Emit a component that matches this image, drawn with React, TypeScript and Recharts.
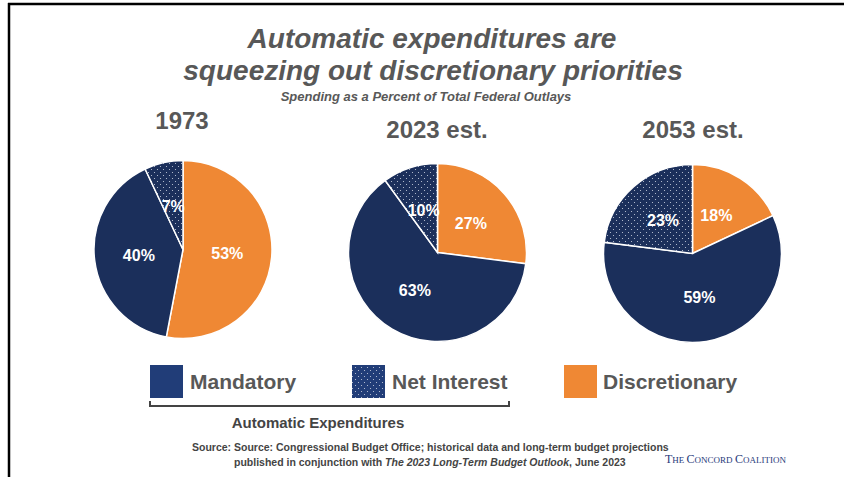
import React from 'react';
import { PieChart, Pie, Cell } from 'recharts';

// ---- Data ----
const years = ['1973', '2023 est.', '2053 est.'];
const categories = ['Mandatory', 'Net Interest', 'Discretionary'];
const mandatory = [40, 63, 59];
const netInterest = [7, 10, 23];
const discretionary = [53, 27, 18];

const title1 = 'Automatic expenditures are';
const title2 = 'squeezing out discretionary priorities';
const subtitle = 'Spending as a Percent of Total Federal Outlays';
const bracketLabel = 'Automatic Expenditures';

// ---- Styles ----
const W = 844;
const H = 477;
const FONT = '"Liberation Sans", Arial, Helvetica, sans-serif';
const GRAY = '#585858';
const NAVY = '#1b2f5b';
const NAVY_LEGEND = '#213d78';
const ORANGE = '#ef8834';

const pieFill: Record<string, string> = {
  Mandatory: NAVY,
  'Net Interest': 'url(#dotsPie)',
  Discretionary: ORANGE,
};
const legendFill: Record<string, string> = {
  Mandatory: NAVY_LEGEND,
  'Net Interest': 'url(#dotsLegend)',
  Discretionary: ORANGE,
};

const pieCenters = [
  { cx: 183, cy: 249.5 },
  { cx: 437.5, cy: 252.5 },
  { cx: 692.5, cy: 253.5 },
];
const yearLabelPos = [
  { x: 182, y: 129 },
  { x: 437, y: 138 },
  { x: 693, y: 138 },
];
const legendPos = [
  { sx: 150, tx: 190 },
  { sx: 352, tx: 392 },
  { sx: 564, tx: 603 },
];

const pieData = years.map((_, i) => [
  { name: 'Discretionary', value: discretionary[i] },
  { name: 'Mandatory', value: mandatory[i] },
  { name: 'Net Interest', value: netInterest[i] },
]);

const RAD = Math.PI / 180;
const renderLabel = (p: any) => {
  const r = p.outerRadius * 0.5;
  const x = p.cx + r * Math.cos(-p.midAngle * RAD);
  const y = p.cy + r * Math.sin(-p.midAngle * RAD);
  return (
    <text
      x={x}
      y={y}
      fill="#ffffff"
      textAnchor="middle"
      dominantBaseline="central"
      fontSize={16}
      fontWeight="bold"
      fontFamily={FONT}
    >
      {`${p.value}%`}
    </text>
  );
};

const Patterns = () => (
  <svg width={0} height={0} style={{ position: 'absolute' }}>
    <defs>
      <pattern id="dotsPie" width="6" height="6" patternUnits="userSpaceOnUse">
        <rect width="6" height="6" fill={NAVY} />
        <circle cx="1.5" cy="1.5" r="0.55" fill="#c9d0de" />
        <circle cx="4.5" cy="4.5" r="0.55" fill="#c9d0de" />
      </pattern>
      <pattern id="dotsLegend" width="6" height="6" patternUnits="userSpaceOnUse">
        <rect width="6" height="6" fill={NAVY_LEGEND} />
        <circle cx="1.5" cy="1.5" r="0.55" fill="#c9d0de" />
        <circle cx="4.5" cy="4.5" r="0.55" fill="#c9d0de" />
      </pattern>
    </defs>
  </svg>
);

export default function App() {
  return (
    <div style={{ position: 'relative', width: W, height: H, background: '#fff' }}>
      <style>{`body{margin:0;}`}</style>
      <Patterns />
      <PieChart width={W} height={H} margin={{ top: 0, right: 0, bottom: 0, left: 0 }}>
        {pieData.map((data, i) => (
          <Pie
            key={years[i]}
            data={data}
            dataKey="value"
            nameKey="name"
            cx={pieCenters[i].cx}
            cy={pieCenters[i].cy}
            outerRadius={89}
            startAngle={90}
            endAngle={-270}
            stroke="#ffffff"
            strokeWidth={1.5}
            label={renderLabel}
            labelLine={false}
            isAnimationActive={false}
          >
            {data.map((d) => (
              <Cell key={d.name} fill={pieFill[d.name]} />
            ))}
          </Pie>
        ))}
      </PieChart>
      <svg
        width={W}
        height={H}
        style={{ position: 'absolute', left: 0, top: 0, pointerEvents: 'none' }}
      >
        {/* frame */}
        <line x1={8} y1={4} x2={W} y2={4} stroke="#000" strokeWidth={2.5} />
        <line x1={9} y1={3} x2={9} y2={H} stroke="#000" strokeWidth={2.5} />

        {/* titles */}
        <text x={432} y={48} textAnchor="middle" fontFamily={FONT} fontSize={28} fontWeight="bold" fontStyle="italic" fill={GRAY}>
          {title1}
        </text>
        <text x={433} y={80} textAnchor="middle" fontFamily={FONT} fontSize={28} fontWeight="bold" fontStyle="italic" fill={GRAY}>
          {title2}
        </text>
        <text x={426} y={101} textAnchor="middle" fontFamily={FONT} fontSize={13} fontWeight="bold" fontStyle="italic" fill={GRAY}>
          {subtitle}
        </text>

        {/* year labels */}
        {years.map((y, i) => (
          <text key={y} x={yearLabelPos[i].x} y={yearLabelPos[i].y} textAnchor="middle" fontFamily={FONT} fontSize={24} fontWeight="bold" fill={GRAY}>
            {y}
          </text>
        ))}

        {/* legend */}
        {categories.map((c, i) => (
          <g key={c}>
            <rect x={legendPos[i].sx} y={365} width={33} height={33} fill={legendFill[c]} />
            <text x={legendPos[i].tx} y={389} fontFamily={FONT} fontSize={21} fontWeight="bold" fill={GRAY}>
              {c}
            </text>
          </g>
        ))}

        {/* bracket */}
        <polyline points="150,401 150,406 509,406 509,401" fill="none" stroke="#444" strokeWidth={2} />
        <text x={318} y={428} textAnchor="middle" fontFamily={FONT} fontSize={15} fontWeight="bold" fill="#444">
          {bracketLabel}
        </text>

        {/* source */}
        <text x={192} y={451} fontFamily={FONT} fontSize={10.5} fontWeight="bold" fill="#444">
          Source: Source: Congressional Budget Office; historical data and long-term budget projections
        </text>
        <text x={234} y={466} fontFamily={FONT} fontSize={10.5} fontWeight="bold" fill="#444">
          published in conjunction with <tspan fontStyle="italic">The 2023 Long-Term Budget Outlook</tspan>, June 2023
        </text>
        <text x={665} y={463} fontFamily='"Liberation Serif", "Times New Roman", serif' fill="#1f3a7a">
          <tspan fontSize={12}>T</tspan>
          <tspan fontSize={9}>HE </tspan>
          <tspan fontSize={12}>C</tspan>
          <tspan fontSize={9}>ONCORD </tspan>
          <tspan fontSize={12}>C</tspan>
          <tspan fontSize={9}>OALITION</tspan>
        </text>
      </svg>
    </div>
  );
}
